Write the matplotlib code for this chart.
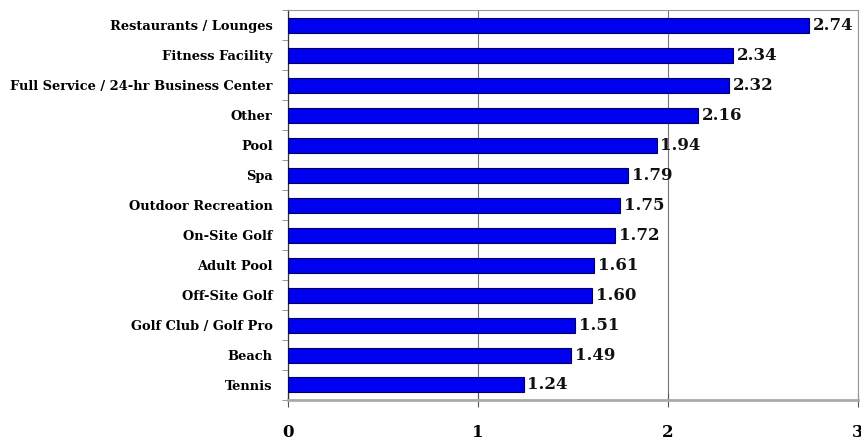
import matplotlib
matplotlib.use("Agg")
import matplotlib.pyplot as plt
from matplotlib.ticker import FixedLocator

categories = [
    "Restaurants / Lounges",
    "Fitness Facility",
    "Full Service / 24-hr Business Center",
    "Other",
    "Pool",
    "Spa",
    "Outdoor Recreation",
    "On-Site Golf",
    "Adult Pool",
    "Off-Site Golf",
    "Golf Club / Golf Pro",
    "Beach",
    "Tennis",
]
values = [2.74, 2.34, 2.32, 2.16, 1.94, 1.79, 1.75, 1.72, 1.61, 1.60, 1.51, 1.49, 1.24]
x_ticks = [0, 1, 2, 3]

serif = ["DejaVu Serif", "Liberation Serif"]

fig = plt.figure(figsize=(8.62, 4.41), dpi=100)
ax = fig.add_axes([0.334, 0.093, 0.6614, 0.884])

n = len(categories)
ypos = list(range(n))[::-1]
ax.barh(ypos, values, height=0.5, color="#0000f0", edgecolor="#000060",
        linewidth=0.8, zorder=3)

for y, v in zip(ypos, values):
    ax.text(v + 0.02, y, f"{v:.2f}", va="center", ha="left",
            fontsize=12, fontweight="bold", family=serif, color="#111111",
            zorder=4)

ax.set_xlim(0, 3)
ax.set_ylim(-0.5, n - 0.5)
ax.set_yticks(ypos)
ax.set_yticklabels(categories, family=serif, fontweight="bold", fontsize=9.4)
ax.tick_params(axis="y", length=0, pad=11)
ax.yaxis.set_minor_locator(FixedLocator([i + 0.5 for i in range(-1, n)]))
ax.tick_params(axis="y", which="minor", length=4, direction="out",
               color="#888888")

ax.set_xticks(x_ticks)
ax.set_xticklabels([str(t) for t in x_ticks], family=serif,
                   fontweight="bold", fontsize=12)
ax.tick_params(axis="x", length=10, direction="inout", pad=12,
               color="#555555", width=0.8)

ax.grid(axis="x", color="#777777", linewidth=0.8, zorder=0)
for side in ["top", "right"]:
    ax.spines[side].set_color("#999999")
    ax.spines[side].set_linewidth(0.8)
ax.spines["left"].set_color("#333333")
ax.spines["left"].set_linewidth(0.9)
ax.spines["bottom"].set_color("#aaaaaa")
ax.spines["bottom"].set_linewidth(2.0)

fig.savefig("out.png", dpi=100)
